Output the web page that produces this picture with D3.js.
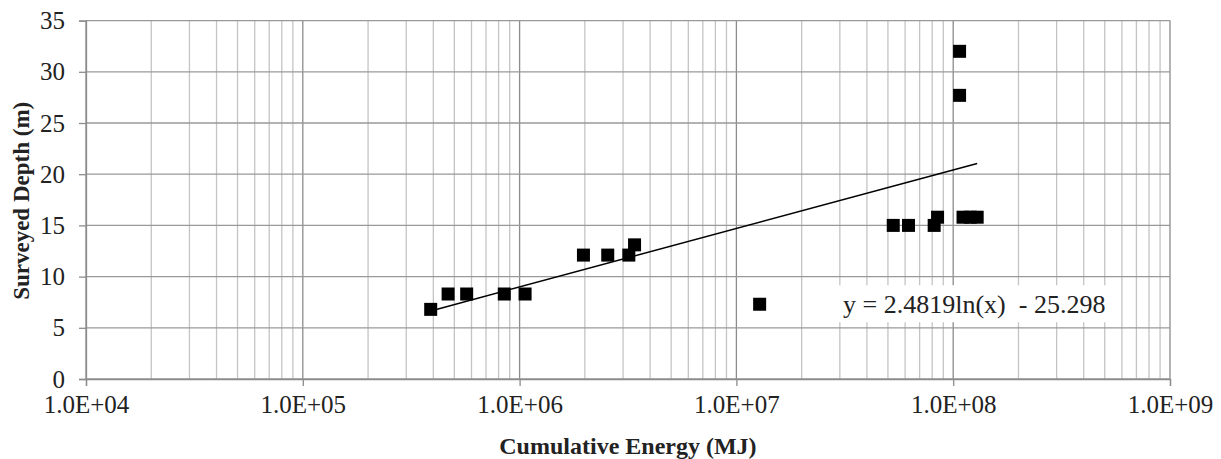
<!DOCTYPE html>
<html>
<head>
<meta charset="utf-8">
<script src="https://cdn.jsdelivr.net/npm/d3@7"></script>
<style>
  body { margin: 0; background: #fff; }
  text { font-family: "Liberation Serif", "Times New Roman", serif; fill: #222; }
</style>
</head>
<body>
<div id="plot"></div>
<script>
// data
var energyMJ = [3.89e5, 4.68e5, 5.7e5, 8.5e5, 1.06e6, 1.97e6, 2.55e6, 3.19e6, 3.39e6, 1.28e7,
                5.29e7, 6.22e7, 8.17e7, 8.47e7, 1.07e8, 1.07e8, 1.11e8, 1.20e8, 1.29e8];
var depthM = [6.8, 8.3, 8.3, 8.3, 8.3, 12.1, 12.1, 12.1, 13.1, 7.3,
              15.0, 15.0, 15.0, 15.8, 32.0, 27.7, 15.8, 15.8, 15.8];
var xTicks = [1e4, 1e5, 1e6, 1e7, 1e8, 1e9];
var yTicks = [0, 5, 10, 15, 20, 25, 30, 35];
var trendCoef = [2.4819, -25.298];   // y = a ln(x) + b
var trendLabel = "y = 2.4819ln(x)  - 25.298";

var margin = {top: 20.6, right: 51, bottom: 80, left: 86},
    width = 1221 - margin.left - margin.right,
    height = 459 - margin.top - margin.bottom;

var svg = d3.select("#plot")
  .append("svg")
  .attr("width", width + margin.left + margin.right)
  .attr("height", height + margin.top + margin.bottom)
  .append("g")
  .attr("transform", "translate(" + margin.left + "," + margin.top + ")");

var x = d3.scaleLog()
  .domain([1e4, 1e9])
  .range([0, width]);

var y = d3.scaleLinear()
  .domain([0, 35])
  .range([height, 0]);

// minor vertical gridlines (2..9 in each decade)
var minor = [];
xTicks.slice(0, -1).forEach(function(d) {
  for (var k = 2; k <= 9; k++) minor.push(d * k);
});
svg.append("g")
  .selectAll("line")
  .data(minor)
  .enter()
  .append("line")
  .attr("x1", function(d) { return x(d); })
  .attr("x2", function(d) { return x(d); })
  .attr("y1", 0)
  .attr("y2", height)
  .attr("stroke", "#c4c4c4")
  .attr("stroke-width", 1.3);

// major vertical gridlines
svg.append("g")
  .selectAll("line")
  .data(xTicks)
  .enter()
  .append("line")
  .attr("x1", function(d) { return x(d); })
  .attr("x2", function(d) { return x(d); })
  .attr("y1", 0)
  .attr("y2", height)
  .attr("stroke", "#8c8c8c")
  .attr("stroke-width", 1.3);

// horizontal gridlines
svg.append("g")
  .selectAll("line")
  .data(yTicks)
  .enter()
  .append("line")
  .attr("x1", 0)
  .attr("x2", width)
  .attr("y1", function(d) { return y(d); })
  .attr("y2", function(d) { return y(d); })
  .attr("stroke", "#999")
  .attr("stroke-width", 1.3);

// Y axis
var yAxis = svg.append("g")
  .call(d3.axisLeft(y).tickValues(yTicks).tickSize(7).tickPadding(14));
yAxis.select(".domain").attr("stroke", "#8c8c8c").attr("stroke-width", 1.3);
yAxis.selectAll(".tick line").attr("stroke", "#8c8c8c").attr("stroke-width", 1.3);
yAxis.selectAll(".tick text").style("font-size", "25px").attr("fill", "#222");

// X axis
var xAxis = svg.append("g")
  .attr("transform", "translate(0," + height + ")")
  .call(d3.axisBottom(x).tickValues(xTicks).tickSize(7).tickPadding(9)
    .tickFormat(function(d) { return d.toExponential(1).toUpperCase().replace(/E([+-])(\d)$/, "E$10$2"); }));
xAxis.select(".domain").attr("stroke", "#8c8c8c").attr("stroke-width", 1.3);
xAxis.selectAll(".tick line").attr("stroke", "#8c8c8c").attr("stroke-width", 1.3);
xAxis.selectAll(".tick text").style("font-size", "25px").attr("fill", "#222");

// trendline across the data range
var xMin = d3.min(energyMJ), xMax = d3.max(energyMJ);
svg.append("line")
  .attr("x1", x(xMin))
  .attr("y1", y(trendCoef[0] * Math.log(xMin) + trendCoef[1]))
  .attr("x2", x(xMax))
  .attr("y2", y(trendCoef[0] * Math.log(xMax) + trendCoef[1]))
  .attr("stroke", "#000")
  .attr("stroke-width", 1.5);

// markers
var s = 13;
svg.selectAll("rect.pt")
  .data(energyMJ)
  .enter()
  .append("rect")
  .attr("class", "pt")
  .attr("x", function(d) { return x(d) - s / 2; })
  .attr("y", function(d, i) { return y(depthM[i]) - s / 2; })
  .attr("width", s)
  .attr("height", s)
  .attr("fill", "#000");

// trendline equation label
var eq = svg.append("g")
  .attr("transform", "translate(" + x(1.25e8) + "," + y(7.3) + ")");
eq.append("rect")
  .attr("x", -137)
  .attr("y", -19)
  .attr("width", 274)
  .attr("height", 37)
  .attr("fill", "#fff");
eq.append("text")
  .attr("text-anchor", "middle")
  .attr("dy", "0.35em")
  .style("font-size", "26px")
  .style("white-space", "pre")
  .attr("fill", "#111")
  .text(trendLabel);

// X axis label
svg.append("text")
  .attr("text-anchor", "middle")
  .attr("x", x(3.16e6))
  .attr("y", height + 75)
  .style("font-size", "24px")
  .style("font-weight", "bold")
  .text("Cumulative Energy (MJ)");

// Y axis label
svg.append("text")
  .attr("text-anchor", "middle")
  .attr("transform", "rotate(-90)")
  .attr("x", -(y(17.4)))
  .attr("y", -margin.left + 29)
  .style("font-size", "23px")
  .style("font-weight", "bold")
  .text("Surveyed Depth (m)");
</script>
</body>
</html>
